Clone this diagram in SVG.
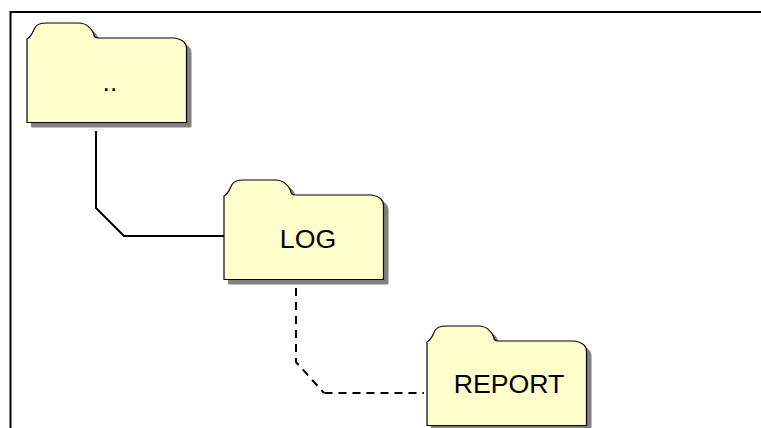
<svg xmlns="http://www.w3.org/2000/svg" width="761" height="428" viewBox="0 0 761 428">
<style>
.frame{fill:none;stroke:#000;stroke-width:2}
.shadow{fill:#808080;stroke:#808080;stroke-width:1}
.body{fill:#ffffcc;stroke:#000;stroke-width:1.2}
.link{fill:none;stroke:#000;stroke-width:2}
.dash{stroke-dasharray:8 6}
text{font-family:"Liberation Sans",Arial,sans-serif;font-size:26.700px;text-anchor:middle;fill:#000}
</style>
<defs>
<path id="folder" d="M0.500 16.500 C5 14.500 6.500 9 8.500 5 C10.500 1.500 14 0.500 20 0.500 L52 0.500 C60 0.500 65 6 67 11 C67.500 14 68 15.500 72 15.500 L148 15.500 C154 16.500 160 19.500 160 26 L160 100 L0.500 100 Z"/>
</defs>
<rect width="761" height="428" fill="#fff"/>
<path class="frame" d="M10.500 428 L10.500 12 L761 12"/>
<g id="connectors">
<path class="link" d="M96 131 L96 208 L124 236 L224 236"/>
<path class="link dash" d="M296 288 L296 362 L324 393 M324.500 393 L424 393"/>
</g>
<g id="node-parent">
<use href="#folder" class="shadow" x="31" y="27"/>
<use href="#folder" class="body" x="26.500" y="22.500"/>
<text x="110" y="91">..</text>
</g>
<g id="node-log">
<use href="#folder" class="shadow" x="228" y="184"/>
<use href="#folder" class="body" x="223.500" y="179.500"/>
<text x="308" y="248">LOG</text>
</g>
<g id="node-report">
<use href="#folder" class="shadow" x="431" y="330"/>
<use href="#folder" class="body" x="426.500" y="325.500"/>
<text x="509" y="393">REPORT</text>
</g>
</svg>
